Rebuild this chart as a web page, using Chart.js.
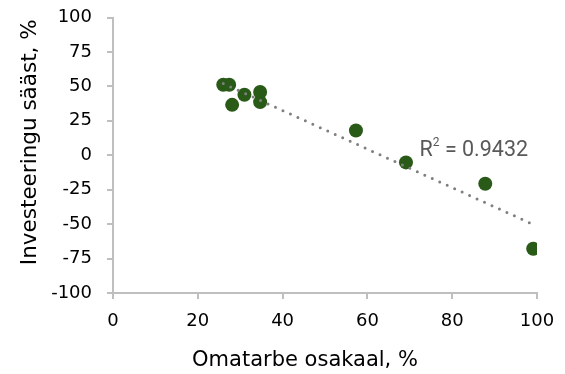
<!DOCTYPE html>
<html>
<head>
<meta charset="utf-8">
<script src="https://cdn.jsdelivr.net/npm/chart.js@4"></script>
<style>
  html, body { margin: 0; padding: 0; background: #fff; }
  #wrap { width: 565px; height: 374px; }
</style>
</head>
<body>
<div id="wrap"><canvas id="myChart" width="565" height="374"></canvas></div>
<script>
// omatarbe osakaal (%) vs investeeringu sääst (%)
const omatarbe = [26.0, 27.4, 28.1, 31.0, 34.7, 34.7, 57.3, 69.1, 87.8, 99.1];
const saast = [51.2, 51.2, 36.6, 43.9, 45.9, 38.6, 18.0, -5.2, -20.7, -67.9];
const xTicks = [0, 20, 40, 60, 80, 100];
const yTicks = [-100, -75, -50, -25, 0, 25, 50, 75, 100];
const r2Text = '0.9432';

const points = omatarbe.map((x, i) => ({ x: x, y: saast[i] }));

// lineaarne trend (vähimruutude meetod)
const n = omatarbe.length;
const mx = omatarbe.reduce((a, b) => a + b, 0) / n;
const my = saast.reduce((a, b) => a + b, 0) / n;
let sxy = 0, sxx = 0;
for (let i = 0; i < n; i++) {
  sxy += (omatarbe[i] - mx) * (saast[i] - my);
  sxx += (omatarbe[i] - mx) * (omatarbe[i] - mx);
}
const slope = sxy / sxx;
const intercept = my - slope * mx;
const xMin = Math.min(...omatarbe);
const xMax = Math.max(...omatarbe);
const trend = [
  { x: xMin, y: intercept + slope * xMin },
  { x: xMax, y: intercept + slope * xMax }
];

const axisColor = '#bfbfbf';
const tickFont = { family: 'DejaVu Sans', size: 18 };

const titlesPlugin = {
  id: 'titles',
  afterDraw(chart) {
    const ctx = chart.ctx;
    const a = chart.chartArea;
    const xs = chart.scales.x, ys = chart.scales.y;
    ctx.save();
    ctx.fillStyle = '#000';
    ctx.textAlign = 'center';
    ctx.textBaseline = 'alphabetic';
    ctx.font = '21px "DejaVu Sans"';
    ctx.fillText('Omatarbe osakaal, %', (a.left + a.right) / 2 - 20, 366);
    ctx.font = '21.5px "DejaVu Sans"';
    ctx.translate(35.5, (a.top + a.bottom) / 2 - 13);
    ctx.rotate(-Math.PI / 2);
    ctx.fillText('Investeeringu sääst, %', 0, 0);
    ctx.restore();

    // R² silt trendijoone kõrval
    ctx.save();
    ctx.fillStyle = '#595959';
    ctx.textBaseline = 'alphabetic';
    ctx.textAlign = 'left';
    let px = xs.getPixelForValue(72.3);
    const py = ys.getPixelForValue(-0.9);
    ctx.font = '21.5px Roboto';
    ctx.fillText('R', px, py);
    px += ctx.measureText('R').width;
    ctx.font = '12px Roboto';
    ctx.fillText('2', px, py - 10);
    px += ctx.measureText('2').width;
    ctx.font = '21.5px Roboto';
    ctx.fillText(' = ' + r2Text, px, py);
    ctx.restore();
  }
};

const data = {
  datasets: [{
    type: 'line',
    label: 'Trend',
    data: trend,
    borderColor: '#7f7f7f',
    borderWidth: 3,
    borderDash: [0, 8.2],
    borderCapStyle: 'round',
    pointRadius: 0,
    fill: false,
    order: 0
  },
  {
    type: 'scatter',
    label: 'Andmed',
    data: points,
    backgroundColor: '#2a5a18',
    borderWidth: 0,
    pointRadius: 7,
    pointHoverRadius: 7,
    order: 1
  }]
};

const config = {
  type: 'scatter',
  data: data,
  options: {
    responsive: false,
    animation: false,
    layout: {
      padding: { top: 17.5, right: 28, bottom: 0, left: 0 }
    },
    plugins: {
      legend: { display: false },
      tooltip: { enabled: false }
    },
    scales: {
      x: {
        type: 'linear',
        min: 0, max: 100,
        afterBuildTicks(scale) { scale.ticks = xTicks.map(v => ({ value: v })); },
        afterFit(scale) {
          scale.height = 81;
          scale.paddingLeft = 0;
          scale.paddingRight = 0;
        },
        ticks: { font: tickFont, color: '#000', padding: 12 },
        grid: { drawOnChartArea: false, tickLength: 6, color: axisColor, lineWidth: 2 },
        border: { color: axisColor, width: 2 }
      },
      y: {
        type: 'linear',
        min: -100, max: 100,
        afterBuildTicks(scale) { scale.ticks = yTicks.map(v => ({ value: v })); },
        afterFit(scale) {
          scale.width = 113;
          scale.paddingTop = 0;
          scale.paddingBottom = 0;
        },
        ticks: { font: tickFont, color: '#000', padding: 15 },
        grid: { drawOnChartArea: false, tickLength: 6, color: axisColor, lineWidth: 2 },
        border: { color: axisColor, width: 2 }
      }
    }
  },
  plugins: [titlesPlugin]
};

const myChart = new Chart(
  document.getElementById('myChart'),
  config
);
</script>
</body>
</html>
